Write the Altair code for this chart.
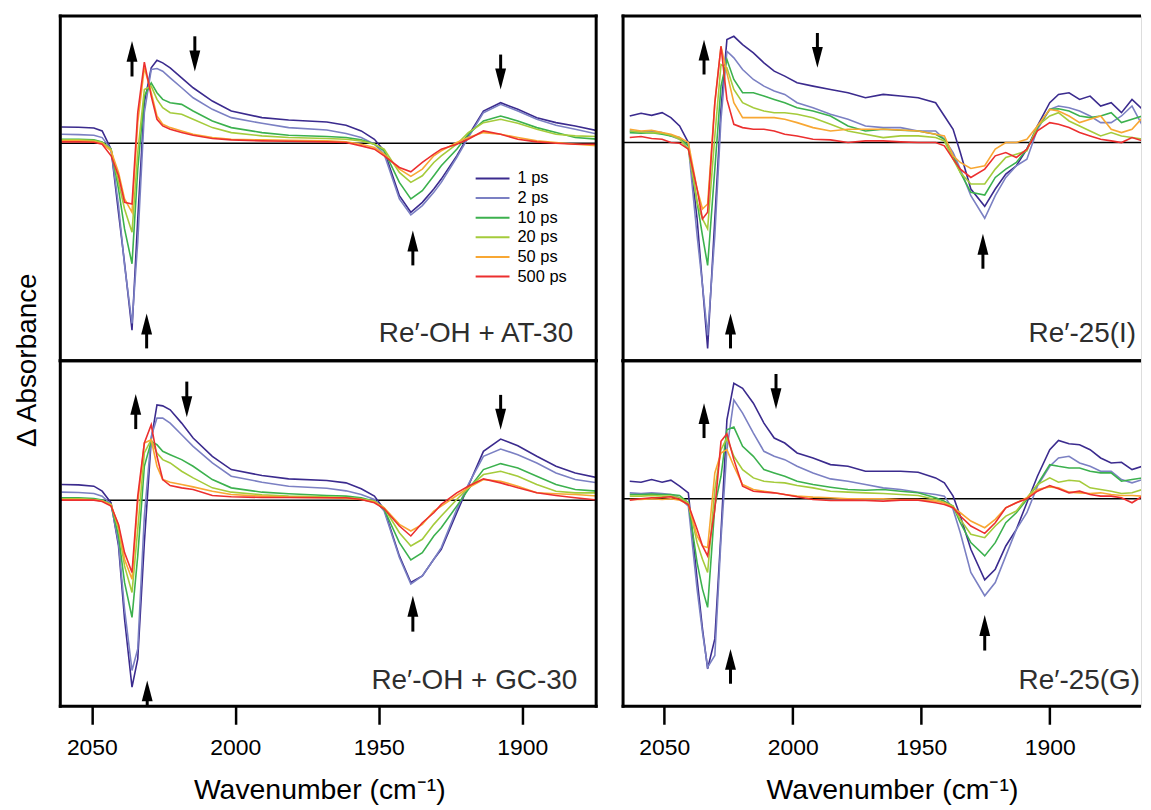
import altair as alt
import pandas as pd

FONT = "Liberation Sans, Arial, Helvetica, sans-serif"

SERIES = ["1 ps", "2 ps", "10 ps", "20 ps", "50 ps", "500 ps"]
COLORS = ["#3b2b8e", "#7b80c3", "#3cb14e", "#a5cb3b", "#f8a733", "#ec2f2f"]

# wavenumber grids (cm-1)
WN_LEFT = [2060.6, 2054.6, 2049.3, 2046.4, 2043.3, 2040.7, 2038.6, 2036.0, 2034.0, 2031.7,
           2029.3, 2027.3, 2025.3, 2022.7, 2018.7, 2014.7, 2008.0, 2001.4, 1990.7, 1981.4,
           1968.1, 1961.4, 1956.1, 1951.5, 1948.1, 1942.8, 1938.8, 1934.8, 1930.8, 1928.2,
           1922.8, 1918.8, 1913.5, 1907.5, 1901.5, 1894.9, 1888.2, 1881.5, 1873.5]
WN_RIGHT = [2063.4, 2059.0, 2054.9, 2050.8, 2047.4, 2044.0, 2040.6, 2037.2, 2035.1, 2033.1,
            2030.3, 2027.9, 2025.6, 2022.9, 2019.5, 2015.3, 2011.2, 2007.2, 2003.1, 1998.3,
            1992.1, 1985.3, 1978.5, 1971.7, 1964.8, 1958.0, 1951.2, 1944.4, 1941.0, 1937.6,
            1934.8, 1930.7, 1925.3, 1921.2, 1917.1, 1913.0, 1908.9, 1904.8, 1900.0, 1896.6,
            1892.5, 1888.4, 1884.3, 1880.2, 1876.1, 1872.1, 1868.0, 1863.9, 1861.2]

# Delta absorbance (arbitrary units) - Re'-OH + AT-30
AT_1 = [49, 48, 46, 37, -18, -210, -361, -563, -228, 122, 227, 250, 242, 227, 197, 167, 127, 97, 77, 70,
        64, 54, 37, 12, -23, -158, -208, -178, -138, -108, -38, 22, 97, 122, 102, 77, 62, 52, 37]
AT_2 = [27, 26, 24, 17, -18, -188, -368, -543, -298, 92, 222, 225, 217, 197, 167, 137, 102, 77, 60, 47,
        40, 29, 17, -3, -33, -168, -216, -188, -148, -118, -43, 17, 92, 117, 97, 72, 54, 42, 27]
AT_10 = [12, 12, 10, 4, -18, -138, -258, -363, -78, 142, 182, 152, 132, 122, 117, 97, 67, 47, 32, 24,
         20, 17, 10, -3, -23, -118, -168, -143, -98, -68, -18, 27, 67, 82, 67, 47, 32, 17, 12]
AT_20 = [10, 10, 8, 2, -18, -118, -198, -268, -28, 162, 172, 132, 107, 92, 87, 72, 47, 32, 22, 17,
         14, 12, 7, -3, -18, -88, -118, -98, -58, -38, -3, 32, 62, 72, 60, 42, 27, 22, 20]
AT_50 = [7, 7, 5, -1, -23, -88, -168, -208, 62, 227, 152, 82, 57, 47, 37, 27, 17, 12, 10, 9,
         7, 4, -3, -13, -33, -78, -100, -78, -38, -23, 2, 17, 32, 27, 17, 7, 2, -3, -8]
AT_500 = [4, 4, 3, -3, -38, -98, -178, -183, 92, 244, 142, 72, 52, 42, 32, 24, 14, 10, 7, 6,
          4, 2, -8, -18, -38, -73, -86, -58, -33, -18, -3, 12, 37, 27, 12, 4, 0, -3, -3]

# Re'-OH + GC-30
GC_1 = [47, 46, 42, 27, -8, -138, -358, -563, -478, -128, 182, 287, 284, 272, 232, 187, 132, 92, 74, 64,
        59, 52, 34, 12, -28, -168, -248, -228, -178, -148, -38, 42, 147, 184, 164, 132, 102, 82, 67]
GC_2 = [24, 23, 20, 12, -13, -128, -328, -513, -448, -48, 192, 247, 247, 232, 197, 162, 112, 72, 54, 42,
        36, 28, 17, 2, -33, -173, -253, -228, -178, -143, -28, 47, 132, 154, 137, 112, 82, 62, 52]
GC_10 = [7, 7, 5, 0, -13, -108, -248, -353, -168, 102, 177, 167, 147, 137, 122, 102, 62, 37, 24, 19,
         14, 12, 7, -3, -28, -128, -180, -158, -108, -83, -18, 32, 92, 110, 97, 72, 47, 32, 27]
GC_20 = [4, 4, 2, -2, -13, -88, -198, -278, -88, 142, 182, 142, 122, 112, 87, 67, 37, 24, 16, 12,
         10, 8, 4, -3, -23, -98, -138, -118, -73, -48, 2, 37, 77, 87, 72, 47, 27, 22, 22]
GC_50 = [2, 2, 1, -3, -15, -78, -178, -238, -8, 172, 182, 102, 62, 54, 47, 40, 27, 17, 12, 9,
         7, 5, 2, -6, -23, -73, -93, -73, -33, -18, 14, 37, 62, 57, 42, 22, 19, 17, 12]
GC_500 = [0, 0, 0, -4, -18, -73, -158, -218, 12, 172, 227, 132, 62, 44, 37, 32, 14, 10, 8, 8,
          7, 7, 2, -8, -26, -78, -108, -68, -38, -13, 22, 42, 64, 52, 37, 22, 14, 7, 0]

# Re'-25(I)
I_1 = [80, 88, 82, 90, 75, 50, 0, -230, -430, -620, -230, 100, 310, 320, 295, 270, 240, 215, 200, 180,
       170, 160, 150, 135, 145, 140, 135, 120, 80, 40, -30, -140, -192, -140, -95, -70, -20, 50, 120, 145,
       150, 130, 140, 110, 120, 90, 130, 100, 120]
I_2 = [35, 32, 35, 30, 20, 10, -10, -280, -430, -580, -280, 70, 275, 255, 220, 190, 170, 155, 145, 120,
       105, 85, 70, 50, 45, 45, 35, 35, 10, -30, -80, -160, -228, -160, -105, -70, -50, 40, 100, 110,
       105, 95, 80, 60, 60, 80, 110, 50, 45]
I_10 = [30, 28, 30, 25, 20, 15, -10, -180, -280, -370, -80, 170, 250, 190, 150, 150, 140, 130, 120, 105,
        95, 80, 50, 35, 40, 37, 35, 25, 10, -40, -90, -150, -158, -105, -80, -60, -20, 45, 100, 102,
        95, 80, 75, 80, 90, 60, 70, 80, 60]
I_20 = [35, 32, 30, 28, 22, 10, -20, -180, -230, -260, 20, 235, 225, 160, 120, 105, 95, 90, 90, 85,
        75, 55, 35, 25, 15, 20, 20, 15, 5, -50, -90, -125, -125, -80, -45, -35, -25, 50, 80, 90,
        65, 50, 35, 20, 30, 20, 15, 10, 10]
I_50 = [40, 35, 37, 30, 25, 15, 0, -140, -200, -185, 120, 290, 210, 120, 75, 75, 75, 75, 70, 60,
        45, 35, 40, 40, 40, 38, 35, 25, 20, -40, -60, -78, -70, -20, 0, 0, 10, 50, 100, 95,
        80, 60, 70, 80, 40, 30, 40, 75, 50]
I_500 = [15, 18, 12, 10, 0, -2, -20, -140, -230, -210, 120, 290, 130, 55, 45, 40, 40, 35, 25, 20,
         10, 8, 0, 5, 5, 2, 0, 0, -10, -50, -80, -105, -80, -40, -30, -45, -20, 35, 60, 55,
         45, 30, 20, 10, 5, 0, 15, 5, 0]

# Re'-25(G)
G_1 = [53, 50, 58, 50, 56, 38, 18, -242, -392, -512, -422, -102, 238, 348, 333, 288, 228, 183, 168, 138,
       123, 103, 98, 83, 83, 83, 80, 63, 48, 8, -52, -152, -244, -212, -142, -92, -12, 68, 148, 176,
       166, 163, 148, 123, 108, 110, 88, 98, 83]
G_2 = [18, 16, 18, 16, 13, 3, -22, -272, -402, -507, -472, -122, 148, 298, 258, 198, 143, 128, 118, 98,
       78, 60, 53, 43, 33, 28, 20, 13, 8, -32, -102, -222, -292, -252, -172, -92, -42, 38, 98, 123,
       128, 108, 98, 83, 83, 58, 48, 58, 28]
G_10 = [13, 13, 14, 13, 13, 10, -12, -192, -272, -327, -22, 68, 208, 216, 158, 128, 88, 78, 68, 53,
        43, 35, 28, 26, 28, 23, 18, 3, -7, -22, -72, -132, -172, -132, -72, -42, -2, 43, 103, 98,
        93, 93, 83, 78, 78, 53, 58, 63, 58]
G_20 = [8, 8, 10, 8, 8, 3, -12, -132, -182, -222, 28, 148, 183, 128, 88, 63, 53, 50, 48, 40,
        33, 23, 20, 18, 16, 13, 10, -2, -12, -22, -62, -107, -117, -82, -52, -37, 3, 43, 63, 50,
        56, 53, 33, 28, 23, 16, 18, 28, 8]
G_50 = [-2, -2, 0, -2, 0, -4, -17, -112, -142, -147, 78, 138, 148, 98, 43, 28, 23, 18, 13, 8,
        5, 3, 0, 0, 0, -2, -2, -7, -12, -27, -42, -67, -87, -62, -27, -12, 3, 28, 36, 33,
        20, 18, 16, 18, 13, 10, 10, 8, 0]
G_500 = [-4, 0, 3, 4, 6, -2, -17, -92, -142, -172, -32, 173, 196, 118, 38, 23, 20, 18, 13, 6,
         -2, -5, -4, -5, -7, -4, -4, -12, -17, -27, -52, -82, -104, -72, -27, -12, 0, 23, 40, 30,
         18, 23, 13, 8, 8, 3, -12, 8, -2]

# arrows: wavenumber, tail value, tip value
AR_AT_WN = [2036.0, 2014.1, 1907.5, 1938.1, 2030.9]
AR_AT_TAIL = [201, 322, 267, -368, -618]
AR_AT_TIP = [308, 216, 162, -263, -513]
AR_GC_WN = [2034.7, 2016.9, 1907.5, 1938.1, 2030.7]
AR_GC_TAIL = [214, 357, 317, -396, -621]
AR_GC_TIP = [320, 250, 212, -288, -543]
AR_I_WN = [2034.5, 1990.4, 1926.0, 2024.2]
AR_I_TAIL = [205, 330, -380, -620]
AR_I_TIP = [310, 225, -275, -515]
AR_G_WN = [2034.5, 2006.5, 1925.3, 2024.2]
AR_G_TAIL = [183, 376, -457, -557]
AR_G_TIP = [288, 270, -350, -452]

LABELS = ["Re\u2032-OH + AT-30", "Re\u2032-25(I)", "Re\u2032-OH + GC-30", "Re\u2032-25(G)"]

UP_HEAD = "M0,-1L0.52,1L-0.52,1Z"
DOWN_HEAD = "M0,1L0.52,-1L-0.52,-1Z"

LEG_X, LEG_Y = 416, 155


def lines_df(wn, series_lists):
    rows = []
    for name, vals in zip(SERIES, series_lists):
        for w, v in zip(wn, vals):
            rows.append({"wn": w, "val": v, "series": name})
    return pd.DataFrame(rows)


def panel(df, xdom, ydom, w, h, label, lab_x, lab_y, ar_wn, ar_tail, ar_tip,
          show_x, show_y, title_x, right_open):
    xscale = alt.Scale(domain=xdom, nice=False, zero=False)
    yscale = alt.Scale(domain=ydom, nice=False, zero=False)
    if show_x:
        xaxis = alt.Axis(values=[2050, 2000, 1950, 1900], format="d",
                         title="Wavenumber (cm\u207b\u00b9)", tickSize=18, tickWidth=2.5,
                         tickColor="black", domain=False, grid=False, labelFontSize=23,
                         labelColor="black", labelPadding=12, labelFont=FONT,
                         titleFont=FONT, titleFontSize=28.5, titleFontWeight="normal",
                         titleColor="black", titlePadding=17, titleX=title_x)
    else:
        xaxis = None
    if show_y:
        yaxis = alt.Axis(title="\u0394 Absorbance", labels=False, ticks=False, domain=False,
                         grid=False, titleFont=FONT, titleFontSize=28, titleFontWeight="normal",
                         titleColor="black", titleX=-25, titleY=h - 1, titleBaseline="alphabetic")
    else:
        yaxis = None

    X = lambda f: alt.X(f, type="quantitative", scale=xscale, axis=xaxis)
    Y = lambda f: alt.Y(f, type="quantitative", scale=yscale, axis=yaxis)

    legend = alt.Legend(title=None, orient="none", legendX=LEG_X, legendY=LEG_Y,
                        symbolType="stroke", symbolSize=1156, symbolStrokeWidth=2,
                        clipHeight=16, labelFontSize=16.5, labelFont=FONT, labelColor="black",
                        rowPadding=2.7, labelOffset=7, padding=0)

    zero = alt.Chart(pd.DataFrame({"z": [0]})).mark_rule(color="black", strokeWidth=1.5).encode(
        y=Y("z"))

    lines = alt.Chart(df).mark_line(strokeWidth=1.6, clip=True).encode(
        x=X("wn"), y=Y("val"),
        color=alt.Color("series:N", scale=alt.Scale(domain=SERIES, range=COLORS),
                        legend=legend, sort=SERIES))

    ar = pd.DataFrame({"wn": ar_wn, "tail": ar_tail, "tip": ar_tip})
    up = ar[ar["tip"] > ar["tail"]]
    dn = ar[ar["tip"] < ar["tail"]]
    layers = [zero, lines]
    if len(up):
        layers.append(alt.Chart(up).mark_rule(color="black", strokeWidth=3, y2Offset=12).encode(
            x=X("wn"), y=Y("tail"), y2="tip"))
        layers.append(alt.Chart(up).mark_point(shape=UP_HEAD, size=441, filled=True, opacity=1,
                                               color="black", strokeWidth=0, yOffset=10.5).encode(
            x=X("wn"), y=Y("tip")))
    if len(dn):
        layers.append(alt.Chart(dn).mark_rule(color="black", strokeWidth=3, y2Offset=-12).encode(
            x=X("wn"), y=Y("tail"), y2="tip"))
        layers.append(alt.Chart(dn).mark_point(shape=DOWN_HEAD, size=441, filled=True, opacity=1,
                                               color="black", strokeWidth=0, yOffset=-10.5).encode(
            x=X("wn"), y=Y("tip")))

    lab = alt.Chart(pd.DataFrame({"t": [label]})).mark_text(
        align="right", baseline="alphabetic", fontSize=28, font=FONT, color="#2e2e2e").encode(
        text="t:N", x=alt.value(lab_x), y=alt.value(lab_y))
    layers.append(lab)

    one = pd.DataFrame({"a": [0]})
    fr = alt.Chart(one).mark_rule(color="black", strokeWidth=3, strokeCap="square")
    frb = alt.Chart(one).mark_rule(color="black", strokeWidth=3, strokeCap="butt")
    if right_open:
        layers.append(frb.encode(x=alt.value(-1.5), x2=alt.value(w), y=alt.value(0)))
        layers.append(frb.encode(x=alt.value(-1.5), x2=alt.value(w), y=alt.value(h)))
    else:
        layers.append(fr.encode(x=alt.value(0), x2=alt.value(w), y=alt.value(0)))
        layers.append(fr.encode(x=alt.value(0), x2=alt.value(w), y=alt.value(h)))
        layers.append(fr.encode(x=alt.value(w), y=alt.value(0), y2=alt.value(h)))
    layers.append(fr.encode(x=alt.value(0), y=alt.value(0), y2=alt.value(h)))

    return alt.layer(*layers).properties(width=w, height=h)


LW, RW = 538, 520
TH, BH = 346, 347
XL = [2061.0, 1874.2]
XR = [2066.0, 1864.5]

tl = panel(lines_df(WN_LEFT, [AT_1, AT_2, AT_10, AT_20, AT_50, AT_500]), XL, [-655, 383], LW, TH,
           LABELS[0], 515, 327, AR_AT_WN, AR_AT_TAIL, AR_AT_TIP, False, True, 0, False)
tr = panel(lines_df(WN_RIGHT, [I_1, I_2, I_10, I_20, I_50, I_500]), XR, [-657, 381], RW, TH,
           LABELS[1], 515, 327, AR_I_WN, AR_I_TAIL, AR_I_TIP, False, False, 0, True)
bl = panel(lines_df(WN_LEFT, [GC_1, GC_2, GC_10, GC_20, GC_50, GC_500]), XL, [-621, 420], LW, BH,
           LABELS[2], 519, 330, AR_GC_WN, AR_GC_TAIL, AR_GC_TIP, True, False, 260, False)
br = panel(lines_df(WN_RIGHT, [G_1, G_2, G_10, G_20, G_50, G_500]), XR, [-625, 416], RW, BH,
           LABELS[3], 519, 330, AR_G_WN, AR_G_TAIL, AR_G_TIP, True, False, 270, True)

left_col = alt.vconcat(tl, bl, spacing=0, bounds="flush").resolve_scale(
    x="independent", y="independent", color="shared")
right_col = alt.vconcat(tr, br, spacing=0, bounds="flush").resolve_scale(
    x="independent", y="independent", color="shared")

chart = alt.hconcat(left_col, right_col, spacing=20, bounds="full",
                    padding={"left": 4.5, "top": 3.5, "right": 0, "bottom": 2}).resolve_scale(
    x="independent", y="independent", color="shared").configure_view(stroke=None).configure(
    font=FONT, background="white")

chart.save("out.html", embed_options={"renderer": "svg", "actions": False})
